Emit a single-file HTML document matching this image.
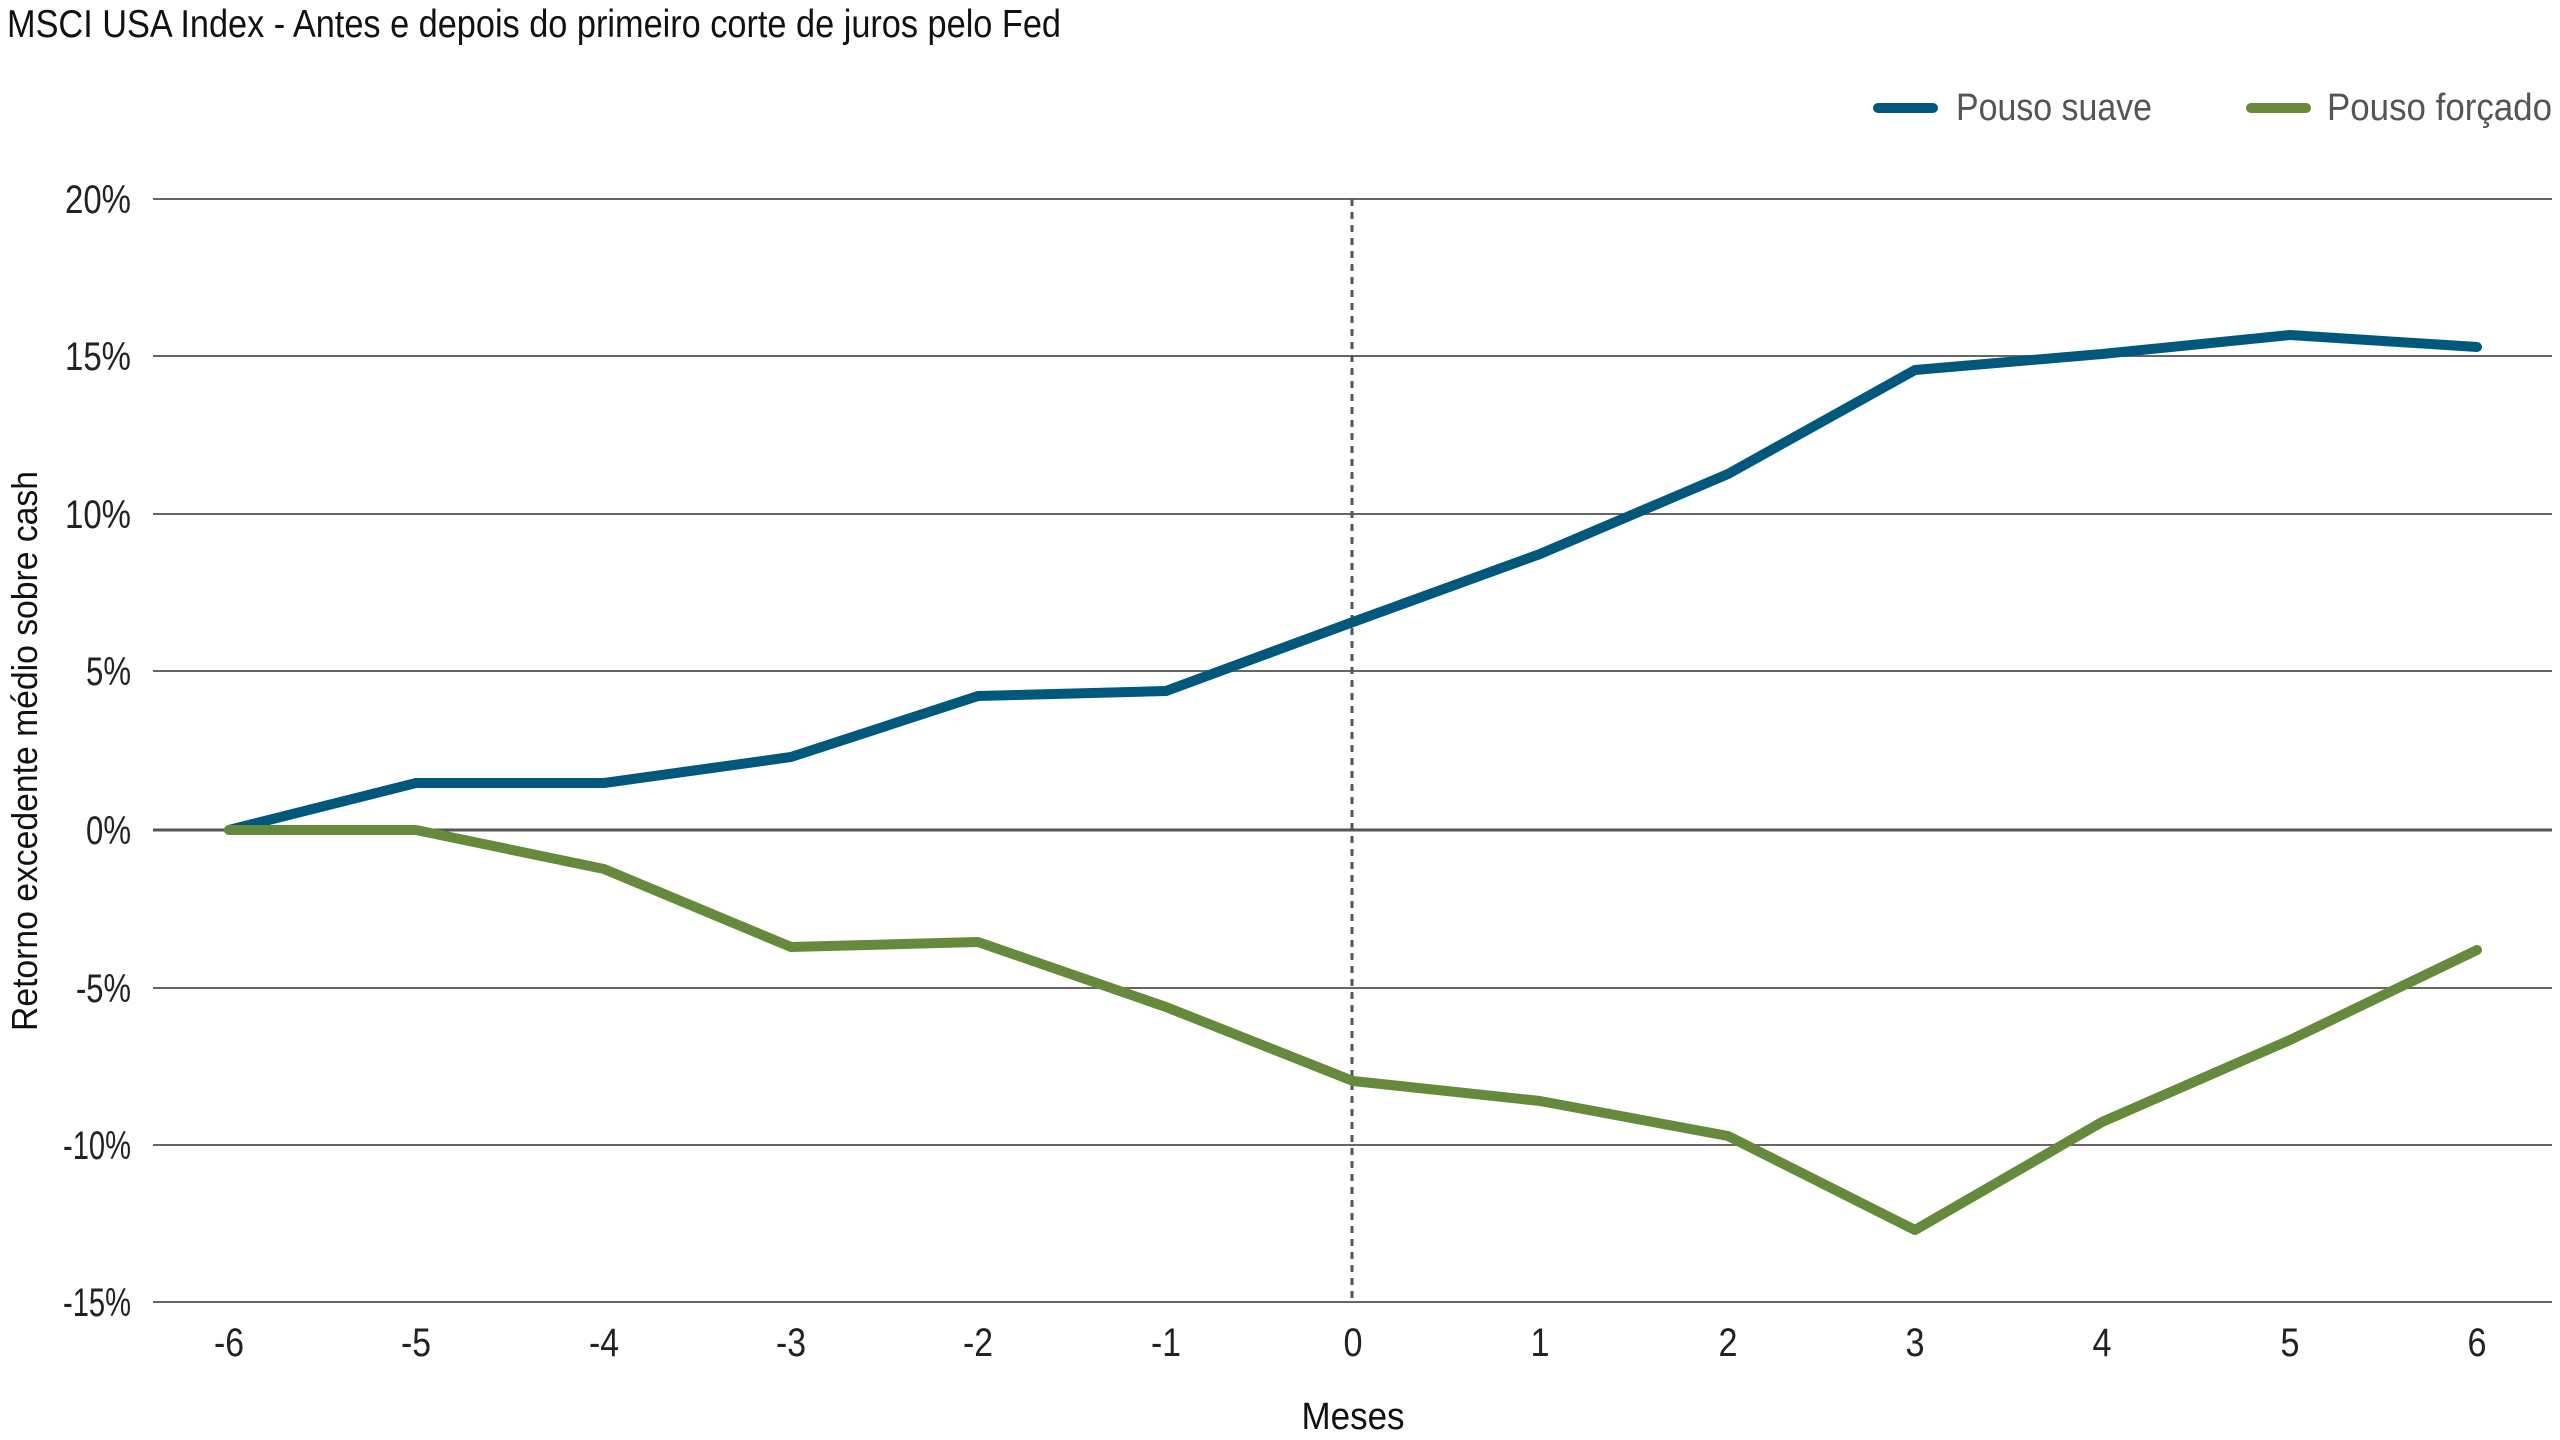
<!DOCTYPE html>
<html><head><meta charset="utf-8"><style>
html,body{margin:0;padding:0;background:#fff;}
svg{display:block;}
text{font-family:"Liberation Sans Narrow","Liberation Sans",sans-serif;}
</style></head><body>
<svg width="2560" height="1440" viewBox="0 0 2560 1440" xmlns="http://www.w3.org/2000/svg">
<text x="7" y="37" font-size="39" fill="#111" textLength="1054" lengthAdjust="spacingAndGlyphs">MSCI USA Index - Antes e depois do primeiro corte de juros pelo Fed</text>

<!-- legend -->
<line x1="1878" y1="108" x2="1933" y2="108" stroke="#00587c" stroke-width="10" stroke-linecap="round"/>
<text x="1956" y="120" font-size="38" fill="#555" textLength="196" lengthAdjust="spacingAndGlyphs">Pouso suave</text>
<line x1="2251" y1="108" x2="2306" y2="108" stroke="#658a3c" stroke-width="10" stroke-linecap="round"/>
<text x="2327" y="120" font-size="38" fill="#555" textLength="225" lengthAdjust="spacingAndGlyphs">Pouso forçado</text>

<!-- grid -->
<g stroke="#666" stroke-width="2">
<line x1="153" y1="199" x2="2552" y2="199"/>
<line x1="153" y1="356" x2="2552" y2="356"/>
<line x1="153" y1="514" x2="2552" y2="514"/>
<line x1="153" y1="671" x2="2552" y2="671"/>
<line x1="153" y1="988" x2="2552" y2="988"/>
<line x1="153" y1="1145" x2="2552" y2="1145"/>
<line x1="153" y1="1302" x2="2552" y2="1302"/>
</g>
<line x1="153" y1="830" x2="2552" y2="830" stroke="#555" stroke-width="3"/>

<!-- y labels -->
<g font-size="40" fill="#222" text-anchor="end">
<text x="131" y="213" textLength="66" lengthAdjust="spacingAndGlyphs">20%</text>
<text x="131" y="370" textLength="66" lengthAdjust="spacingAndGlyphs">15%</text>
<text x="131" y="528" textLength="66" lengthAdjust="spacingAndGlyphs">10%</text>
<text x="131" y="685" textLength="45" lengthAdjust="spacingAndGlyphs">5%</text>
<text x="131" y="844" textLength="45" lengthAdjust="spacingAndGlyphs">0%</text>
<text x="131" y="1002" textLength="55" lengthAdjust="spacingAndGlyphs">-5%</text>
<text x="131" y="1159" textLength="68" lengthAdjust="spacingAndGlyphs">-10%</text>
<text x="131" y="1316" textLength="68" lengthAdjust="spacingAndGlyphs">-15%</text>
</g>

<!-- x labels -->
<g font-size="40" fill="#222" text-anchor="middle">
<text x="229" y="1356" textLength="30" lengthAdjust="spacingAndGlyphs">-6</text>
<text x="416" y="1356" textLength="30" lengthAdjust="spacingAndGlyphs">-5</text>
<text x="604" y="1356" textLength="30" lengthAdjust="spacingAndGlyphs">-4</text>
<text x="791" y="1356" textLength="30" lengthAdjust="spacingAndGlyphs">-3</text>
<text x="978" y="1356" textLength="30" lengthAdjust="spacingAndGlyphs">-2</text>
<text x="1166" y="1356" textLength="30" lengthAdjust="spacingAndGlyphs">-1</text>
<text x="1353" y="1356" textLength="19" lengthAdjust="spacingAndGlyphs">0</text>
<text x="1540" y="1356" textLength="19" lengthAdjust="spacingAndGlyphs">1</text>
<text x="1728" y="1356" textLength="19" lengthAdjust="spacingAndGlyphs">2</text>
<text x="1915" y="1356" textLength="19" lengthAdjust="spacingAndGlyphs">3</text>
<text x="2102" y="1356" textLength="19" lengthAdjust="spacingAndGlyphs">4</text>
<text x="2290" y="1356" textLength="19" lengthAdjust="spacingAndGlyphs">5</text>
<text x="2477" y="1356" textLength="19" lengthAdjust="spacingAndGlyphs">6</text>
</g>
<text x="1353" y="1429" font-size="38" fill="#111" text-anchor="middle" textLength="103" lengthAdjust="spacingAndGlyphs">Meses</text>
<text transform="translate(37,751) rotate(-90)" font-size="36" fill="#111" text-anchor="middle" textLength="560" lengthAdjust="spacingAndGlyphs">Retorno excedente médio sobre cash</text>

<!-- dashed zero line -->
<line x1="1352" y1="199" x2="1352" y2="1302" stroke="#555" stroke-width="3" stroke-dasharray="7,6"/>

<!-- series -->
<polyline fill="none" stroke="#00587c" stroke-width="10" stroke-linejoin="round" stroke-linecap="round"
points="229,830 416,783 604,783 791,757 978,696 1166,691 1353,622 1540,554 1728,474 1915,370 2102,354 2290,335 2477,347"/>
<polyline fill="none" stroke="#658a3c" stroke-width="10" stroke-linejoin="round" stroke-linecap="round"
points="229,830 416,830 604,869 791,947 978,942 1166,1007 1353,1081 1540,1101 1728,1136 1915,1230 2102,1122 2290,1040 2477,950"/>
</svg>
</body></html>
